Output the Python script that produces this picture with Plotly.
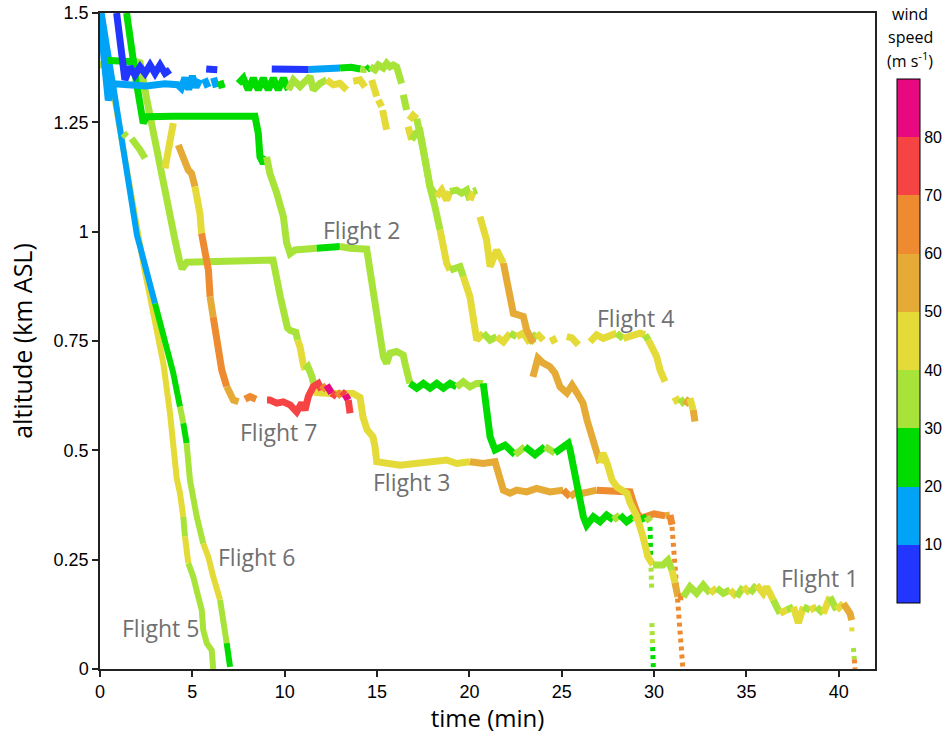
import plotly.graph_objects as go

# ---------------- colour bins (wind speed, m s-1) ----------------
BIN_EDGES = [0, 10, 20, 30, 40, 50, 60, 70, 80, 90]
BIN_COLORS = ["#2236FF", "#00A3F5", "#00DC00", "#A8E33A", "#E4DB38",
              "#E5AB36", "#EE8A2F", "#F64444", "#E8087F"]
CB_TICKS = [10, 20, 30, 40, 50, 60, 70, 80]
CB_TITLE_LINES = ["wind", "speed", "(m s<sup>-1</sup>)"]

# ---------------- flight tracks: time (min), altitude (km ASL), wind (m s-1) ----------------
F1_t = [0.00, 0.18, 0.32, 0.45, 0.60, 0.80, 1.50, 2.50, 3.50, 4.20, 4.40, 4.60, 4.80, 5.00, 5.20, 5.40, None,
        5.65, 5.85, None, 6.15, 6.30, None, 6.50, 6.62, None,
        7.49, 7.76, 8.03, 8.30, 8.57, 8.84, 9.11, 9.38, 9.65, 9.93, 10.20, 10.47, 10.83, 11.19, 11.37, 11.55,
        11.91, 12.27, 12.63, 12.99, 13.36, None, 13.71, 14.08, 14.35, None, 14.71, 14.98, None, 15.07, 15.25, None,
        15.30, 15.52, None,
        16.75, 16.95, 17.15, 17.33, 17.50, 17.87, 18.23, 18.50, 18.77, 18.95, 19.31, 19.58, 19.85, 20.03, 20.22,
        20.40, None,
        20.57, 20.93, 21.12, 21.48, 21.84, 22.38, 22.92, 23.10, 23.46, None,
        23.44, 23.71, 23.98, 24.36, 24.63, 24.91, 25.28, 25.56, 25.83, 26.15, 26.37, 26.64, 26.91, 27.07, 27.23,
        27.45, 27.72, 27.99, 28.53, 28.70, 29.07, 29.40, 29.67, 29.94, 30.48, 30.75, 30.97, 31.13, 31.29,
        31.58, 31.94, 32.30, 32.66, 33.03, 33.39, 33.75, 34.11, 34.47, 34.83, 35.19, 35.55, 35.91, 36.09, 36.45,
        36.82, 37.18, 37.54, 37.81, 38.08, 38.44, 38.80, 39.16, 39.52, 39.88, 40.25, 40.61, 40.70]
F1_alt = [1.490, 1.400, 1.320, 1.300, 1.325, 1.338, 1.336, 1.333, 1.338, 1.336, 1.328, 1.352, 1.325, 1.356, 1.330,
          1.348, None,
          1.350, 1.330, None, 1.352, 1.330, None, 1.345, 1.328, None,
          1.339, 1.351, 1.324, 1.351, 1.324, 1.351, 1.324, 1.351, 1.324, 1.351, 1.324, 1.347, 1.332, 1.347, 1.355,
          1.324, 1.339, 1.347, 1.336, 1.339, 1.324, None, 1.344, 1.347, 1.331, None, 1.347, 1.309, None, 1.301,
          1.286, None, 1.278, 1.233, None,
          1.255, 1.266, 1.258, 1.229, 1.187, 1.102, 1.080, 1.095, 1.072, 1.092, 1.095, 1.088, 1.095, 1.072, 1.092,
          1.095, None,
          1.034, 0.981, 0.920, 0.958, 0.928, 0.813, 0.806, 0.775, 0.745, None,
          0.668, 0.711, 0.700, 0.691, 0.677, 0.645, 0.631, 0.649, 0.631, 0.608, 0.569, 0.531, 0.501, 0.471, 0.494,
          0.471, 0.432, 0.416, 0.402, 0.380, 0.348, 0.302, 0.256, 0.238, 0.238, 0.249, 0.226, 0.197, 0.165,
          0.165, 0.188, 0.173, 0.192, 0.173, 0.185, 0.173, 0.181, 0.165, 0.188, 0.173, 0.192, 0.173, 0.188, 0.158,
          0.127, 0.135, 0.142, 0.105, 0.142, 0.135, 0.142, 0.127, 0.165, 0.135, 0.150, 0.127, 0.112]
F1_wind = [15, 15, 15, 15, 15, 15, 15, 15, 15, 15, 15, 15, 15, 15, 15, 15, None,
           15, 15, None, 15, 15, None, 25, 25, None,
           25, 25, 25, 25, 25, 25, 25, 25, 25, 25, 35, 35, 35, 35, 35, 35, 38, 45, 45, 45, 45, None, 45, 45, 45,
           None, 45, 45, None, 45, 45, None, 45, 45, None,
           45, 45, 38, 38, 38, 38, 45, 42, 45, 35, 35, 35, 35, 42, 35, 35, None,
           45, 45, 45, 45, 50, 55, 55, 55, 55, None,
           57, 57, 57, 55, 57, 57, 57, 55, 57, 57, 55, 57, 50, 45, 45, 45, 45, 45, 48, 45, 45, 45, 42, 38, 38,
           38, 45, 55, 62,
           35, 38, 35, 38, 45, 38, 38, 45, 38, 45, 38, 45, 45, 45, 38, 45, 38, 45, 45, 38, 45, 38, 45, 38, 45,
           55, 55, 45]
F1_drop_t = [40.70, 40.72, None, 40.79, 40.84, 40.88]
F1_drop_alt = [0.095, 0.082, None, 0.048, 0.022, 0.000]
F1_drop_wind = [45, 45, None, 38, 62, 38]

F2_t = [1.44, 1.71, 1.98, 2.34, 2.53, 4.00, 6.00, 8.39, 8.57, 8.66, 8.84, 9.02, 9.20, 9.57, 9.93, 10.10, 10.29,
        10.56, 11.73, 12.40, 12.99, 13.54, 14.44, 14.80, 15.16, 15.34, 15.52, 15.70, 16.06, 16.42, 16.51, 16.78,
        17.15, 17.51, 17.87, 18.23, 18.59, 18.95, 19.31, 19.67, 20.03, 20.40, 20.75, 21.12, 21.39, 21.93, 22.47,
        23.01, 23.55, 24.09, 24.63, 25.35, 25.45, 25.83, 26.17, 26.35, 26.71, 27.07, 27.43, 27.79, 28.15, 28.51,
        28.88, 29.24, 29.60, 29.78]
F2_alt = [1.500, 1.415, 1.339, 1.248, 1.263, 1.264, 1.263, 1.264, 1.225, 1.171, 1.156, 1.171, 1.133, 1.088, 1.034,
          0.975, 0.950, 0.958, 0.962, 0.964, 0.966, 0.962, 0.960, 0.867, 0.775, 0.714, 0.699, 0.722, 0.726, 0.718,
          0.699, 0.653, 0.642, 0.653, 0.642, 0.653, 0.642, 0.653, 0.645, 0.657, 0.645, 0.653, 0.653, 0.531, 0.501,
          0.512, 0.490, 0.508, 0.490, 0.508, 0.494, 0.516, 0.501, 0.409, 0.348, 0.329, 0.348, 0.337, 0.352, 0.341,
          0.352, 0.337, 0.348, 0.341, 0.348, 0.337]
F2_wind = [25, 25, 25, 25, 25, 25, 25, 25, 25, 28, 25, 35, 35, 35, 35, 35, 35, 35, 25, 28, 35, 35, 35, 35, 35, 35,
           35, 35, 35, 35, 30, 25, 25, 25, 25, 25, 25, 25, 35, 35, 35, 35, 25, 25, 25, 25, 35, 25, 25, 35, 25, 25,
           25, 25, 25, 25, 25, 25, 25, 35, 25, 25, 35, 25, 35, 25]
F2_drop_t = [29.78, 29.82, 29.87, None, 29.88, 29.92, 29.96]
F2_drop_alt = [0.325, 0.250, 0.181, None, 0.105, 0.050, 0.000]
F2_drop_wind = [25, 35, 25, None, 35, 25, 25]

F3_t = [0.00, 0.30, 1.00, 1.60, 2.00, 2.17, 2.54, 2.82, 3.09, 3.41, 3.79, 4.06, 4.30, 4.45, 4.70, 6.00, 7.50, 9.37,
        9.77, 10.15, 10.30, 10.60, 10.70, 10.83, 10.99, 11.10, 11.26, 11.48, 11.55, 11.75, 12.50, 13.70, 14.08,
        14.24, 14.46, 14.78, 14.89, 14.98, 16.24, 17.15, 18.05, 18.77, 19.31, 20.03, 20.75, 21.39, 21.57, 21.75,
        21.84, 22.20, 22.56, 23.10, 23.64, 24.36, 25.08, 25.45, 25.81, 26.17, 26.89, 27.97, 28.70, 28.88, 29.10,
        29.30, 30.00, 30.60, 30.86, 30.97]
F3_alt = [1.375, 1.392, 1.390, 1.390, 1.388, 1.386, 1.301, 1.239, 1.194, 1.125, 1.043, 0.981, 0.935, 0.915, 0.930,
          0.932, 0.933, 0.935, 0.850, 0.780, 0.774, 0.770, 0.752, 0.737, 0.700, 0.684, 0.691, 0.668, 0.654, 0.632,
          0.630, 0.630, 0.621, 0.576, 0.547, 0.531, 0.508, 0.474, 0.466, 0.470, 0.474, 0.478, 0.470, 0.474, 0.470,
          0.474, 0.447, 0.417, 0.409, 0.402, 0.409, 0.405, 0.413, 0.405, 0.409, 0.394, 0.405, 0.402, 0.409, 0.409,
          0.405, 0.380, 0.355, 0.345, 0.355, 0.350, 0.352, 0.330]
F3_wind = [30, 28, 28, 25, 35, 35, 35, 35, 35, 35, 35, 35, 35, 35, 35, 35, 35, 35, 35, 35, 35, 38, 42, 42, 42, 38,
           38, 38, 42, 42, 42, 45, 45, 45, 45, 45, 45, 45, 45, 45, 45, 45, 45, 55, 55, 55, 55, 55, 55, 55, 55, 55,
           55, 55, 62, 55, 55, 55, 62, 62, 62, 62, 60, 62, 62, 55, 62, 62]
F3_drop_t = [30.97, 31.15, 31.30, 31.45, 31.56]
F3_drop_alt = [0.325, 0.230, 0.150, 0.060, 0.000]
F3_drop_wind = [62, 62, 62, 62, 42]

F4_t = [0.90, 1.35, 1.62, 1.89, 2.17, 2.44, 2.71, 2.98, 3.25, 3.52, 3.79, None, 5.75, 6.35, None,
        9.30, 10.40, 11.30, 12.45, 13.00, 13.60, 14.10, 14.44, 14.62, 14.89, 15.07, 15.34, 15.52, 15.70, 15.88,
        16.06, 16.33, None, 16.42, 16.60, None,
        16.68, 16.87, 17.10, 17.33, 17.50, 17.87, 18.14, 18.41, 18.77, 18.95, 19.49, 19.67, 20.03, 20.40, 20.75,
        21.12, 21.48, 21.84, 22.20, 22.56, 22.92, 23.28, 23.64, 24.00, None, 24.46, 24.64, None,
        25.27, 25.55, 25.90, None,
        26.53, 26.89, 27.25, 27.61, 27.97, 28.33, 28.70, 29.24, 29.51, 29.69, 29.87, 30.14, 30.32, 30.50, 30.59,
        None, 31.04, 31.40, 31.67, 31.94, 32.12, 32.21]
F4_alt = [1.500, 1.347, 1.377, 1.358, 1.377, 1.362, 1.381, 1.362, 1.381, 1.362, 1.370, None, 1.372, 1.370, None,
          1.372, 1.372, 1.371, 1.372, 1.374, 1.376, 1.372, 1.370, 1.377, 1.370, 1.381, 1.374, 1.385, 1.377, 1.381,
          1.377, 1.339, None, 1.313, 1.278, None,
          1.240, 1.210, 1.225, 1.229, 1.187, 1.102, 1.056, 1.004, 0.928, 0.912, 0.920, 0.897, 0.851, 0.752, 0.768,
          0.752, 0.760, 0.748, 0.768, 0.760, 0.768, 0.745, 0.768, 0.752, None, 0.760, 0.745, None,
          0.760, 0.757, 0.741, None,
          0.748, 0.764, 0.756, 0.760, 0.768, 0.756, 0.760, 0.768, 0.764, 0.752, 0.737, 0.714, 0.684, 0.661, 0.657,
          None, 0.611, 0.619, 0.604, 0.619, 0.592, 0.566]
F4_wind = [5, 5, 5, 5, 5, 5, 5, 5, 5, 5, 5, None, 5, 5, None,
           5, 5, 15, 15, 25, 25, 30, 25, 35, 30, 35, 30, 35, 30, 35, 35, 35, None, 35, 35, None,
           45, 38, 38, 38, 38, 38, 38, 42, 45, 38, 38, 42, 45, 45, 38, 38, 45, 45, 38, 45, 45, 38, 45, 45, None,
           45, 45, None, 45, 45, 45, None,
           45, 45, 45, 45, 38, 45, 45, 45, 38, 45, 45, 45, 45, 45, 35, None, 42, 38, 55, 45, 50, 35]

F5_t = [0.00, 0.97, 1.99, 2.34, 2.71, 3.07, 3.43, 3.79, 4.15, 4.33, 4.51, 4.60, 4.78, 5.05, 5.32, 5.51, 5.59,
        5.78, 6.05, 6.13]
F5_alt = [1.495, 1.255, 1.004, 0.928, 0.851, 0.775, 0.699, 0.585, 0.437, 0.402, 0.348, 0.303, 0.242, 0.211, 0.165,
          0.135, 0.089, 0.059, 0.043, 0.000]
F5_wind = [40, 40, 45, 45, 45, 45, 45, 45, 42, 45, 38, 45, 35, 35, 35, 35, 38, 35, 35, 35]

F6_t = [0.09, 0.36, 0.72, 1.08, 1.45, 1.79, 2.00, 2.22, 2.53, 2.80, 2.98, 3.07, 3.43, 3.61, 3.97, 4.33, 4.51, 4.69,
        4.87, 5.24, 5.59, 5.86, 6.13, 6.50, 6.68, 6.86, 7.04]
F6_alt = [1.500, 1.427, 1.335, 1.244, 1.152, 1.061, 0.992, 0.958, 0.905, 0.859, 0.836, 0.821, 0.760, 0.737, 0.676,
          0.600, 0.562, 0.516, 0.432, 0.348, 0.287, 0.257, 0.211, 0.158, 0.105, 0.059, 0.005]
F6_wind = [15, 15, 15, 15, 15, 15, 15, 15, 15, 15, 25, 25, 28, 25, 28, 30, 25, 30, 35, 35, 42, 42, 42, 35, 35, 25,
           25]

F7_t = [1.26, 1.44, None, 1.71, 1.98, 2.17, 2.44, None, 3.52, 3.97, None,
        4.24, 4.42, 4.60, 4.78, 4.96, 5.14, 5.41, 5.50, 5.69, 5.87, 5.96, 6.13, 6.40, 6.59, 6.86, 7.04, 7.22, 7.50,
        None, 7.85, 8.12, 8.45, None,
        9.04, 9.20, 9.57, 9.92, 10.29, 10.65, 10.92, 11.10, 11.28, 11.55, 11.82, 12.00, 12.27, 12.54, 12.82,
        13.08, 13.27, 13.44, 13.54]
F7_alt = [1.225, 1.217, None, 1.213, 1.201, 1.187, 1.168, None, 1.145, 1.248, None,
          1.198, 1.179, 1.164, 1.141, 1.133, 1.103, 1.042, 0.996, 0.958, 0.912, 0.851, 0.805, 0.744, 0.684, 0.646,
          0.631, 0.615, 0.611, None, 0.617, 0.623, 0.617, None,
          0.615, 0.615, 0.608, 0.611, 0.604, 0.588, 0.608, 0.592, 0.623, 0.646, 0.653, 0.638, 0.649, 0.631, 0.623,
          0.634, 0.627, 0.615, 0.585]
F7_wind = [35, 35, None, 35, 35, 35, 35, None, 45, 45, None,
           55, 55, 55, 55, 50, 45, 45, 62, 62, 62, 55, 62, 62, 62, 55, 55, 55, 58, None, 62, 62, 62, None,
           72, 72, 72, 72, 72, 72, 72, 72, 72, 72, 72, 62, 85, 72, 62, 72, 85, 72, 72]

# labels: (text, time, altitude)
LABELS = [("Flight 1", 38.98, 0.208), ("Flight 2", 14.16, 1.004), ("Flight 3", 16.87, 0.428),
          ("Flight 4", 28.97, 0.803), ("Flight 5", 3.25, 0.094), ("Flight 6", 8.47, 0.256),
          ("Flight 7", 9.69, 0.542)]

X_TICKS = [0, 5, 10, 15, 20, 25, 30, 35, 40]
Y_TICKS = [0, 0.25, 0.5, 0.75, 1, 1.25, 1.5]
Y_TICKTEXT = ["0", "0.25", "0.5", "0.75", "1", "1.25", "1.5"]


def wind_color(w):
    for i in range(len(BIN_COLORS)):
        if BIN_EDGES[i] <= w < BIN_EDGES[i + 1]:
            return BIN_COLORS[i]
    return BIN_COLORS[-1]


fig = go.Figure()


def add_track(t, a, w, width, dash=None):
    run_x, run_y, run_c = [], [], None

    def flush(xs, ys, c):
        if len(xs) >= 2:
            fig.add_trace(go.Scatter(x=xs, y=ys, mode="lines",
                                     line=dict(color=c, width=width, dash=dash),
                                     hoverinfo="skip", showlegend=False))

    for i in range(len(t) - 1):
        if t[i] is None or t[i + 1] is None:
            flush(run_x, run_y, run_c)
            run_x, run_y, run_c = [], [], None
            continue
        c = wind_color(w[i])
        if c != run_c:
            flush(run_x, run_y, run_c)
            run_x, run_y, run_c = [t[i]], [a[i]], c
        run_x.append(t[i + 1])
        run_y.append(a[i + 1])
    flush(run_x, run_y, run_c)


add_track(F5_t, F5_alt, F5_wind, 6)
add_track(F6_t, F6_alt, F6_wind, 6)
add_track(F3_t, F3_alt, F3_wind, 7)
add_track(F3_drop_t, F3_drop_alt, F3_drop_wind, 5, dash="4px,4px")
add_track(F2_t, F2_alt, F2_wind, 7)
add_track(F2_drop_t, F2_drop_alt, F2_drop_wind, 5, dash="4px,4px")
add_track(F4_t, F4_alt, F4_wind, 7)
add_track(F1_t, F1_alt, F1_wind, 7)
add_track(F1_drop_t, F1_drop_alt, F1_drop_wind, 5, dash="4px,4px")
add_track(F7_t, F7_alt, F7_wind, 7)

# discrete colour bar
cscale = []
n = len(BIN_COLORS)
for i, c in enumerate(BIN_COLORS):
    cscale.append([i / n, c])
    cscale.append([(i + 1) / n, c])

fig.add_trace(go.Scatter(
    x=[None], y=[None], mode="markers", showlegend=False, hoverinfo="skip",
    marker=dict(color=[0], cmin=BIN_EDGES[0], cmax=BIN_EDGES[-1], colorscale=cscale, showscale=True,
                colorbar=dict(thickness=23, thicknessmode="pixels", len=524, lenmode="pixels",
                              x=1.0284, xanchor="left", xpad=0, y=0.8994, yanchor="top", ypad=0,
                              outlinewidth=1, outlinecolor="black",
                              tickvals=CB_TICKS, ticktext=[str(v) for v in CB_TICKS],
                              ticks="", tickfont=dict(family="Liberation Sans", size=16, color="black")))))

for text, tx, ty in LABELS:
    fig.add_annotation(x=tx, y=ty, text=text, showarrow=False, xanchor="center", yanchor="middle",
                       font=dict(family="Open Sans", size=23, color="#707070"))

# colour-bar title, one annotation per line (paper y of line centres)
for line, py in zip(CB_TITLE_LINES, [0.9985, 0.9634, 0.9283]):
    fig.add_annotation(xref="paper", yref="paper", x=1.0452, y=py, xanchor="center", yanchor="middle",
                       text=line, showarrow=False, align="center",
                       font=dict(family="Open Sans", size=16, color="black"))

axis_common = dict(showgrid=False, zeroline=False, showline=True, linecolor="#222", linewidth=1.5,
                   mirror=True, ticks="outside", ticklen=6, tickwidth=1.5, tickcolor="#222", automargin=False,
                   tickfont=dict(family="Liberation Sans", size=18, color="black"))

fig.update_layout(
    width=951, height=734,
    margin=dict(l=100, r=76, t=13, b=65, autoexpand=False),
    paper_bgcolor="white", plot_bgcolor="white",
    xaxis=dict(range=[0, 41.96], tickvals=X_TICKS,
               title=dict(text="time (min)", font=dict(family="Open Sans", size=24, color="black"), standoff=8),
               **axis_common),
    yaxis=dict(range=[0, 1.5], tickvals=Y_TICKS, ticktext=Y_TICKTEXT,
               title=dict(text="altitude (km ASL)", font=dict(family="Open Sans", size=25, color="black"),
                          standoff=14),
               **axis_common),
)

fig.write_html("out.html")
